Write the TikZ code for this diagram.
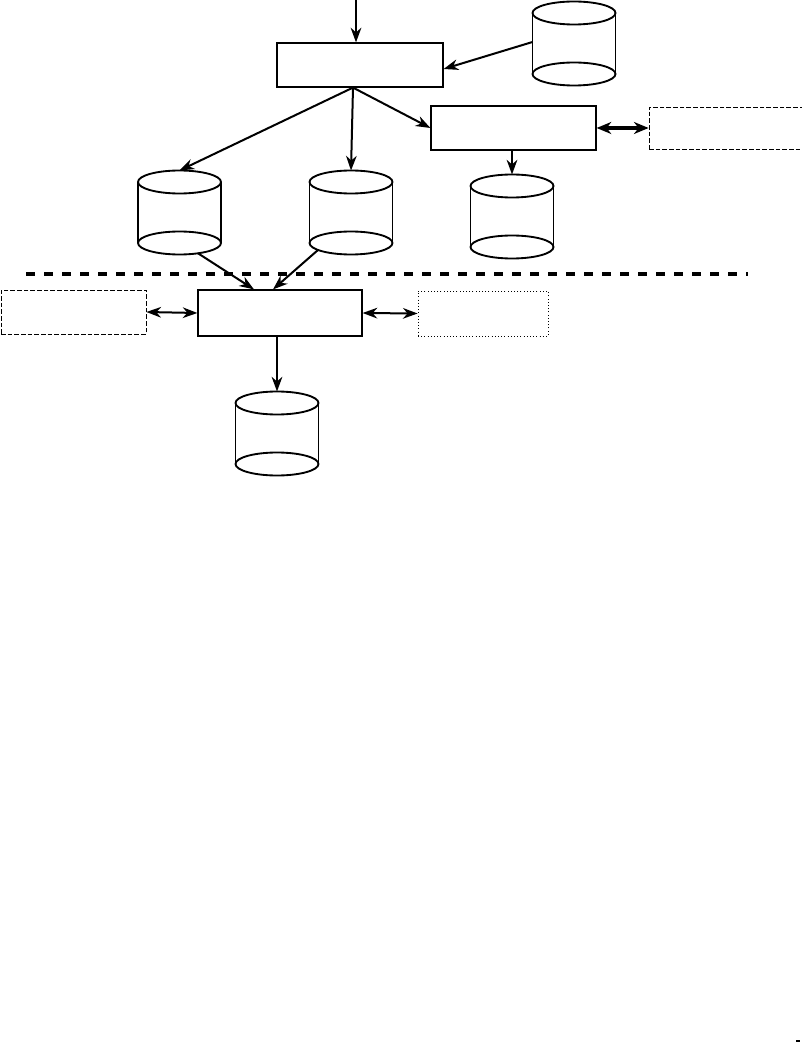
\documentclass[tikz,border=0pt]{standalone}
\usetikzlibrary{arrows.meta,calc}
\begin{document}
\begin{tikzpicture}[x=0.75pt,y=-0.75pt,
  box/.style={draw,line width=0.9pt,inner sep=0pt,minimum width=#1,minimum height=44*0.75pt},
  dbox/.style={box=#1,line width=0.6pt,dash pattern=on 3.5pt off 1.5pt},
  tbox/.style={box=#1,line width=0.6pt,dash pattern=on 0.8pt off 1.6pt},
  tip/.style={Stealth[length=11pt,width=8pt,inset=3.5pt]},
  conn/.style={line width=1.5pt,-{Stealth[length=11pt,width=8pt,inset=3.5pt]}},
  bconn/.style={line width=1.5pt,{Stealth[length=11pt,width=8pt,inset=3.5pt]}-{Stealth[length=11pt,width=8pt,inset=3.5pt]}},
  tconn/.style={line width=2.6pt,{Stealth[length=11pt,width=9pt,inset=3.5pt]}-{Stealth[length=11pt,width=9pt,inset=3.5pt]}},
  cylline/.style={line width=1.4pt},
  db/.pic={
    \draw[cylline] (0,0) ellipse[x radius=41.5,y radius=11.5];
    \draw[cylline] (-41.5,0) -- (-41.5,61) (41.5,0) -- (41.5,61);
    \draw[cylline] (0,61) ellipse[x radius=41.5,y radius=11.5];
    \coordinate (-top) at (0,-11.5);
    \coordinate (-w) at (-41.5,29);
    \coordinate (-se) at (18.5,71.3);
    \coordinate (-sw) at (-33,68);
  }]
\useasboundingbox (0,0) rectangle (802,1048);

% boxes
\node[box=166*0.75pt] (A) at (360,65) {};
\node[box=165*0.75pt] (B) at (513.5,128) {};
\node[dbox=200*0.75pt,minimum height=42*0.75pt] (D) at (749,128) {};
\node[box=164*0.75pt,minimum height=46*0.75pt] (E) at (280,313) {};
\node[dbox=145*0.75pt] (F) at (73.5,312) {};
\node[tbox=130*0.75pt,minimum height=45*0.75pt] (G) at (483,313.5) {};

% databases
\pic (C1) at (574,13) {db};
\pic (C2) at (179.5,182) {db};
\pic (C3) at (351,182) {db};
\pic (C4) at (512,186) {db};
\pic (C5) at (277,403) {db};

% connectors
\coordinate (in) at (356,0);
\coordinate (Aout) at ($(A.south)+(-7,0)$);
\draw[conn] (in) -- (in |- A.north);
\draw[conn] (C1-w) -- ($(A.east)+(0,4)$);
\draw[conn] (Aout) -- (C2-top);
\draw[conn] (Aout) -- (C3-top);
\draw[conn] (Aout) -- (B.west);
\draw[tconn] (B.east) -- (D.west);
\draw[conn] (C4-top |- B.south) -- (C4-top);
\draw[conn] (C2-se) -- ($(E.north)+(-26,0)$);
\draw[conn] (C3-sw) -- ($(E.north)+(-7,0)$);
\draw[bconn] (F.east) -- (E.west);
\draw[bconn] (E.east) -- (G.west);
\draw[conn] (C5-top |- E.south) -- (C5-top);

% separator
\coordinate (dl1) at (26,274);
\coordinate (dl2) at (748,274);
\draw[line width=2.6pt,dash pattern=on 6.5pt off 7pt] (dl1) -- (dl2);

% mark
\coordinate (m1) at (796,1041);
\coordinate (m2) at (800,1041);
\draw[line width=0.9pt] (m1) -- (m2);
\end{tikzpicture}
\end{document}
